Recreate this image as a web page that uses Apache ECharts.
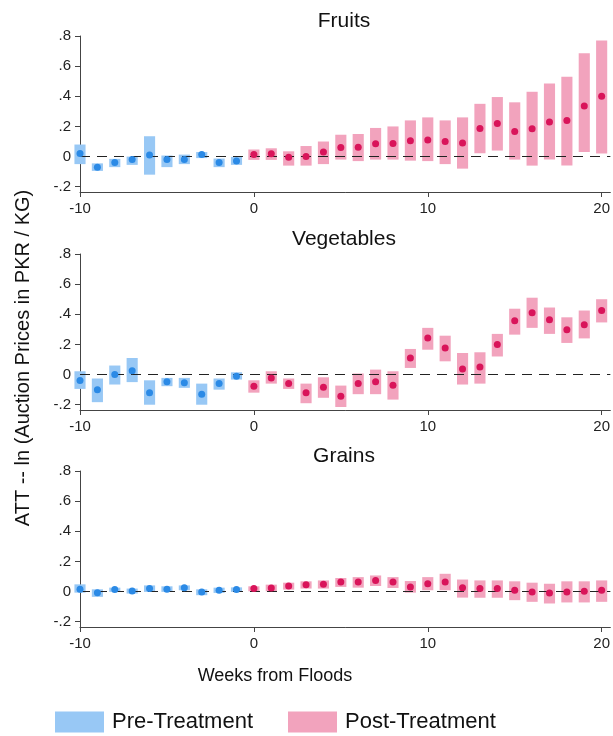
<!DOCTYPE html>
<html>
<head>
<meta charset="utf-8">
<script src="https://cdn.jsdelivr.net/npm/echarts@6/dist/echarts.min.js"></script>
<style>
html,body{margin:0;padding:0;background:#fff;}
#chart{width:613px;height:736px;}
</style>
</head>
<body>
<div id="chart"></div>
<script>
// ---------- data ----------
const weeksPre  = [-10,-9,-8,-7,-6,-5,-4,-3,-2,-1];
const weeksPost = [0,1,2,3,4,5,6,7,8,9,10,11,12,13,14,15,16,17,18,19,20];

const panelTitles = ['Fruits', 'Vegetables', 'Grains'];
const xTickValues = [-10, 0, 10, 20];
const yTickValues = [-0.2, 0, 0.2, 0.4, 0.6, 0.8];
const yTickLabels = ['-.2', '0', '.2', '.4', '.6', '.8'];
const legendNames = ['Pre-Treatment', 'Post-Treatment'];

// Fruits
const fruitsPreEst  = [0.02,-0.07,-0.04,-0.02,0.01,-0.02,-0.02,0.013,-0.04,-0.03];
const fruitsPreLo   = [-0.05,-0.095,-0.07,-0.055,-0.12,-0.07,-0.05,-0.01,-0.07,-0.055];
const fruitsPreHi   = [0.08,-0.045,-0.015,0.0,0.135,0.007,0.013,0.03,-0.013,-0.002];
const fruitsPostEst = [0.013,0.018,-0.005,0.0,0.03,0.06,0.062,0.085,0.087,0.105,0.11,0.1,0.09,0.187,0.22,0.167,0.185,0.23,0.24,0.335,0.40];
const fruitsPostLo  = [-0.022,-0.022,-0.06,-0.06,-0.05,-0.02,-0.03,-0.02,-0.02,-0.027,-0.03,-0.05,-0.08,0.022,0.04,-0.02,-0.06,-0.02,-0.06,0.03,0.02];
const fruitsPostHi  = [0.047,0.055,0.035,0.07,0.1,0.145,0.15,0.19,0.2,0.24,0.26,0.24,0.26,0.35,0.395,0.36,0.43,0.485,0.53,0.685,0.77];

// Vegetables
const vegPreEst  = [-0.04,-0.10,0.0,0.026,-0.12,-0.048,-0.055,-0.13,-0.06,-0.011];
const vegPreLo   = [-0.095,-0.183,-0.066,-0.05,-0.2,-0.077,-0.088,-0.2,-0.1,-0.033];
const vegPreHi   = [0.022,-0.026,0.06,0.11,-0.038,-0.022,-0.022,-0.06,-0.026,0.015];
const vegPostEst = [-0.077,-0.022,-0.06,-0.12,-0.084,-0.143,-0.06,-0.048,-0.07,0.11,0.243,0.177,0.037,0.05,0.2,0.357,0.41,0.364,0.298,0.33,0.425];
const vegPostLo  = [-0.12,-0.06,-0.095,-0.19,-0.154,-0.215,-0.13,-0.13,-0.166,0.044,0.165,0.088,-0.066,-0.06,0.12,0.265,0.31,0.27,0.21,0.24,0.346];
const vegPostHi  = [-0.038,0.022,-0.026,-0.06,-0.018,-0.073,0.007,0.033,0.022,0.17,0.31,0.258,0.143,0.148,0.27,0.437,0.51,0.445,0.38,0.425,0.5];

// Grains
const grainsPreEst  = [0.015,-0.007,0.013,0.004,0.02,0.015,0.026,-0.002,0.009,0.013];
const grainsPreLo   = [-0.007,-0.035,-0.002,-0.013,-0.002,-0.002,0.009,-0.024,-0.009,-0.002];
const grainsPreHi   = [0.048,0.015,0.026,0.02,0.041,0.035,0.041,0.015,0.026,0.028];
const grainsPostEst = [0.02,0.024,0.037,0.046,0.048,0.064,0.064,0.074,0.064,0.031,0.052,0.064,0.026,0.02,0.02,0.009,-0.002,-0.009,-0.002,0.002,0.009];
const grainsPostLo  = [0.002,0.002,0.013,0.02,0.02,0.031,0.026,0.037,0.024,-0.007,0.009,0.009,-0.04,-0.041,-0.041,-0.057,-0.068,-0.079,-0.072,-0.072,-0.068];
const grainsPostHi  = [0.035,0.046,0.059,0.068,0.074,0.09,0.096,0.107,0.096,0.07,0.096,0.118,0.08,0.074,0.074,0.068,0.059,0.052,0.068,0.068,0.074];

const panels = [
  {pre:[fruitsPreEst,fruitsPreLo,fruitsPreHi], post:[fruitsPostEst,fruitsPostLo,fruitsPostHi]},
  {pre:[vegPreEst,vegPreLo,vegPreHi], post:[vegPostEst,vegPostLo,vegPostHi]},
  {pre:[grainsPreEst,grainsPreLo,grainsPreHi], post:[grainsPostEst,grainsPostLo,grainsPostHi]}
];

// ---------- styles ----------
const FONT = 'Liberation Sans, Arial, Helvetica, sans-serif';
const blueBox = '#98c8f5', blueDot = '#2b8ae6';
const pinkBox = '#f2a3bd', pinkDot = '#d9145a';
const axisColor = '#444';
const BOX_W = 0.64;
const gridTops = [36, 254, 471];
const gridH = 156;

function boxRender(params, api) {
  const x = api.value(0), lo = api.value(1), hi = api.value(2);
  const pHi = api.coord([x, hi]);
  const pLo = api.coord([x, lo]);
  const w = api.size([BOX_W, 0])[0];
  return {
    type: 'rect',
    shape: {x: pHi[0] - w / 2, y: pHi[1], width: w, height: pLo[1] - pHi[1]},
    style: {fill: api.visual('color')}
  };
}

const grids = [], xAxes = [], yAxes = [], series = [];
panels.forEach((p, i) => {
  grids.push({left: 80, top: gridTops[i], width: 536, height: gridH});
  xAxes.push({
    type: 'value', gridIndex: i, min: -10, max: 20.5,
    axisLine: {show: true, onZero: false, lineStyle: {color: axisColor, width: 1}},
    axisTick: {show: true, length: 5, customValues: xTickValues, lineStyle: {color: axisColor}},
    axisLabel: {customValues: xTickValues, color: '#222', fontSize: 15, fontFamily: FONT, margin: 9,
      formatter: v => String(v)},
    splitLine: {show: false}
  });
  yAxes.push({
    type: 'value', gridIndex: i, min: -0.235, max: 0.8,
    axisLine: {show: true, onZero: false, lineStyle: {color: axisColor, width: 1}},
    axisTick: {show: true, length: 5, customValues: yTickValues, lineStyle: {color: axisColor}},
    axisLabel: {customValues: yTickValues, color: '#222', fontSize: 15, fontFamily: FONT, margin: 9,
      formatter: v => {
        const k = yTickValues.findIndex(t => Math.abs(t - v) < 1e-9);
        return k >= 0 ? yTickLabels[k] : '';
      }},
    splitLine: {show: false}
  });
  const preBoxes = weeksPre.map((w, k) => [w, p.pre[1][k], p.pre[2][k]]);
  const postBoxes = weeksPost.map((w, k) => [w, p.post[1][k], p.post[2][k]]);
  series.push({
    name: legendNames[0], type: 'custom', xAxisIndex: i, yAxisIndex: i,
    renderItem: boxRender, itemStyle: {color: blueBox}, data: preBoxes, z: 2,
    encode: {x: 0, y: [1, 2]}, clip: false
  });
  series.push({
    name: legendNames[1], type: 'custom', xAxisIndex: i, yAxisIndex: i,
    renderItem: boxRender, itemStyle: {color: pinkBox}, data: postBoxes, z: 2,
    encode: {x: 0, y: [1, 2]}, clip: false
  });
  series.push({
    type: 'scatter', xAxisIndex: i, yAxisIndex: i, symbolSize: 7, z: 4,
    itemStyle: {color: blueDot, opacity: 1},
    data: weeksPre.map((w, k) => [w, p.pre[0][k]]),
    markLine: {
      silent: true, symbol: 'none', label: {show: false},
      lineStyle: {color: '#222', type: [10, 7], width: 1.2},
      data: [{yAxis: 0}], z: 3
    }
  });
  series.push({
    type: 'scatter', xAxisIndex: i, yAxisIndex: i, symbolSize: 7, z: 4,
    itemStyle: {color: pinkDot, opacity: 1},
    data: weeksPost.map((w, k) => [w, p.post[0][k]])
  });
});

const graphics = [];
panelTitles.forEach((t, i) => {
  graphics.push({type: 'text', x: 344, y: gridTops[i] - 15,
    style: {text: t, font: '21px ' + FONT, fill: '#111', textAlign: 'center', textVerticalAlign: 'middle'}});
});
graphics.push({type: 'text', x: 23, y: 358, rotation: Math.PI / 2,
  style: {text: 'ATT -- ln (Auction Prices in PKR / KG)', font: '20px ' + FONT, fill: '#111',
    textAlign: 'center', textVerticalAlign: 'middle'}});
graphics.push({type: 'text', x: 275, y: 676,
  style: {text: 'Weeks from Floods', font: '18px ' + FONT, fill: '#111', textAlign: 'center', textVerticalAlign: 'middle'}});

const chart = echarts.init(document.getElementById('chart'), null, {renderer: 'canvas'});
chart.setOption({
  animation: false,
  backgroundColor: '#fff',
  grid: grids,
  xAxis: xAxes,
  yAxis: yAxes,
  series: series,
  legend: {
    data: legendNames, left: 50, top: 706, itemWidth: 49, itemHeight: 21, itemGap: 35,
    icon: 'rect', selectedMode: false,
    textStyle: {fontSize: 22, fontFamily: FONT, color: '#111', padding: [0, 0, 0, 3]}
  },
  graphic: graphics
});
</script>
</body>
</html>
